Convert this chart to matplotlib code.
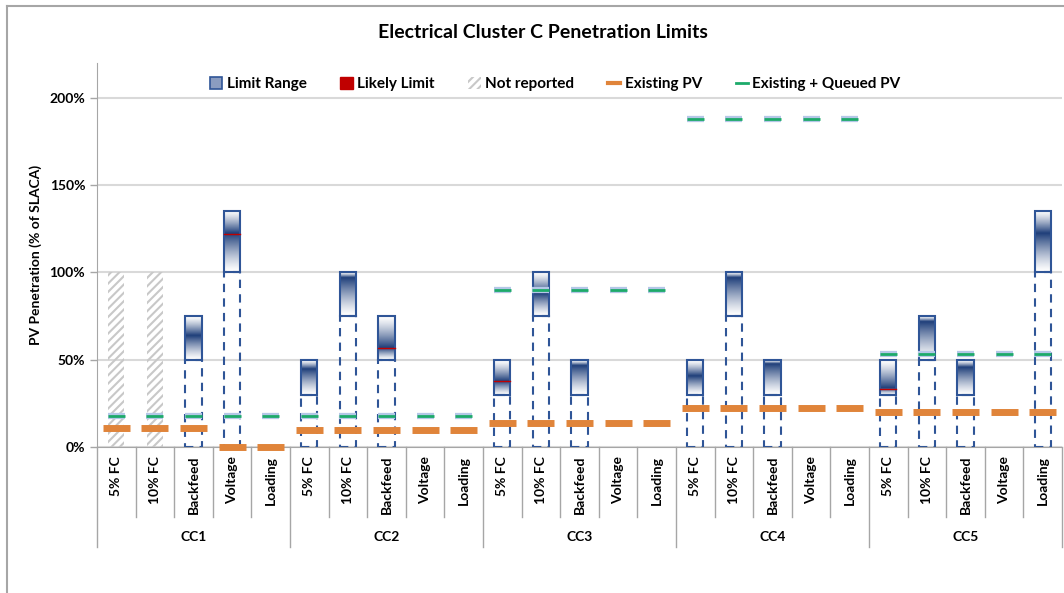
import numpy as np
import matplotlib
matplotlib.use('Agg')
import matplotlib.pyplot as plt
from matplotlib.patches import Rectangle, Patch
from matplotlib.lines import Line2D
from matplotlib.colors import LinearSegmentedColormap
import matplotlib.patheffects as pe

plt.rcParams['font.family'] = ['Lato', 'DejaVu Sans']
plt.rcParams['font.weight'] = 'bold'
plt.rcParams['hatch.linewidth'] = 1.5

nan = np.nan
clusters = ['CC1', 'CC2', 'CC3', 'CC4', 'CC5']
categories = ['5% FC', '10% FC', 'Backfeed', 'Voltage', 'Loading']

# limit range per slot (cluster x category), nan = none
limit_lo = [nan, nan, 50, 100, nan,
            30, 75, 50, nan, nan,
            30, 75, 30, nan, nan,
            30, 75, 30, nan, nan,
            30, 50, 30, nan, 100]
limit_hi = [nan, nan, 75, 135, nan,
            50, 100, 75, nan, nan,
            50, 100, 50, nan, nan,
            50, 100, 50, nan, nan,
            50, 75, 50, nan, 135]
# where the shading is darkest
limit_peak = [nan, nan, 64, 122, nan,
              45, 97, 57, nan, nan,
              38, 88, 47, nan, nan,
              41, 97, 48, nan, nan,
              34, 72, 46, nan, 122]
likely_limit = [nan, nan, nan, 122, nan,
                nan, nan, 57, nan, nan,
                38, nan, nan, nan, nan,
                nan, nan, nan, nan, nan,
                33, nan, nan, nan, nan]
not_reported = [100, 100, nan, nan, nan] + [nan] * 20
existing_pv = [11, 11, 11, 0, 0,
               10, 10, 10, 10, 10,
               13.5, 13.5, 13.5, 13.5, 13.5,
               22.5, 22.5, 22.5, 22.5, 22.5,
               20, 20, 20, 20, 20]
queued_pv = [18] * 5 + [17.5] * 5 + [90] * 5 + [188] * 5 + [53] * 5

blue = '#2F5597'
orange = '#E0843A'
green = '#1DAA6A'
grid_c = '#D9D9D9'
cmap = LinearSegmentedColormap.from_list('lim', ['#FFFFFF', '#1F3F7A'])

fig = plt.figure(figsize=(10.64, 5.93), dpi=100)
ax = fig.add_axes([97 / 1064, 1 - 447 / 593, (1062 - 97) / 1064, 384 / 593])

# outer chart frame
fig.add_artist(Line2D([7 / 1064, 7 / 1064], [0, 1 - 6 / 593], color='#A6A6A6', lw=1.5))
fig.add_artist(Line2D([7 / 1064, 1], [1 - 6 / 593, 1 - 6 / 593], color='#A6A6A6', lw=1.5))

n = len(existing_pv)
xs = np.arange(n)
bw = 0.42

for i in xs:
    lo, hi, pk = limit_lo[i], limit_hi[i], limit_peak[i]
    if not np.isnan(lo):
        y = np.linspace(lo, hi, 200)
        v = np.where(y <= pk, 1 - (pk - y) / max(pk - lo, 1e-6), 1 - (y - pk) / max(hi - pk, 1e-6))
        v = np.clip(v, 0, 1) ** 1.3
        ax.imshow(v[:, None], extent=[i - bw / 2, i + bw / 2, lo, hi], origin='lower',
                  aspect='auto', cmap=cmap, vmin=0, vmax=1, zorder=3, interpolation='bilinear')
        ax.add_patch(Rectangle((i - bw / 2, lo), bw, hi - lo, fill=False, ec=blue, lw=1.5, zorder=4))
        ax.add_patch(Rectangle((i - bw / 2, 0), bw, lo, fill=False, ec=blue, lw=1.5,
                               ls=(0, (4, 3)), zorder=4))
    if not np.isnan(likely_limit[i]):
        ax.plot([i - bw / 2, i + bw / 2], [likely_limit[i]] * 2, color='#C00000', lw=1.0, zorder=5)
    if not np.isnan(not_reported[i]):
        ax.add_patch(Rectangle((i - bw / 2, 0), bw, not_reported[i], fill=False, ec='#C8C8C8',
                               lw=0, hatch='////', zorder=2))

# existing and queued markers
for i in xs:
    ax.plot([i - 0.35, i + 0.35], [existing_pv[i]] * 2, color=orange, lw=5, zorder=6,
            solid_capstyle='butt', clip_on=False)
    ax.plot([i - 0.22, i + 0.22], [queued_pv[i]] * 2, color=green, lw=2, zorder=6,
            solid_capstyle='butt',
            path_effects=[pe.Stroke(linewidth=4.5, foreground='#B4C7E7'), pe.Normal()])

ax.set_xlim(-0.5, n - 0.5)
ax.set_ylim(0, 220)
ax.set_yticks([0, 50, 100, 150, 200])
ax.set_yticklabels(['0%', '50%', '100%', '150%', '200%'], fontsize=10, fontweight='bold')
ax.yaxis.grid(True, color=grid_c, lw=1.5)
ax.set_axisbelow(True)
ax.set_xticks([])
for s in ['top', 'right']:
    ax.spines[s].set_visible(False)
ax.spines['left'].set_color('#A6A6A6')
ax.spines['bottom'].set_color('#A6A6A6')
ax.tick_params(axis='y', length=5, color='#A6A6A6', width=1)
ax.set_ylabel('PV Penetration (% of SLACA)', fontsize=10, fontweight='bold', labelpad=5)

# two-level category axis
tr = ax.get_xaxis_transform()
y_cat = -70 / 384
y_grp = -100 / 384
for i in xs:
    ax.text(i, -9 / 384, categories[i % 5], transform=tr, rotation=90, ha='center', va='top',
            fontsize=10, fontweight='bold')
for k in range(1, n):
    bottom = y_grp if k % 5 == 0 else y_cat
    ax.add_line(Line2D([k - 0.5, k - 0.5], [0, bottom], transform=tr, color='#A6A6A6',
                       lw=1, clip_on=False))
for edge in [-0.5, n - 0.5]:
    ax.add_line(Line2D([edge, edge], [0, y_grp], transform=tr, color='#A6A6A6', lw=1,
                       clip_on=False))
for g, name in enumerate(clusters):
    ax.text(g * 5 + 2, -90 / 384, name, transform=tr, ha='center', va='center',
            fontsize=10, fontweight='bold')

fig.text(543 / 1064, 1 - 33 / 593, 'Electrical Cluster C Penetration Limits',
         ha='center', va='center', fontsize=14, fontweight='bold')

handles = [
    Patch(facecolor='#8A9CC0', edgecolor=blue, lw=1.2),
    Patch(facecolor='#C00000', edgecolor='#C00000'),
    Patch(facecolor='white', edgecolor='#C8C8C8', hatch='////', lw=0),
    Line2D([], [], color=orange, lw=3),
    Line2D([], [], color=green, lw=2),
]
labels = ['Limit Range', 'Likely Limit', 'Not reported', 'Existing PV', 'Existing + Queued PV']
leg = ax.legend(handles, labels, loc='center', bbox_to_anchor=(0.475, 363 / 384), ncol=5,
                frameon=False, fontsize=11, handlelength=0.8, handleheight=0.8,
                handletextpad=0.3, columnspacing=2.2)
for t in leg.get_texts():
    t.set_fontweight('bold')

fig.savefig('out.png', dpi=100)
